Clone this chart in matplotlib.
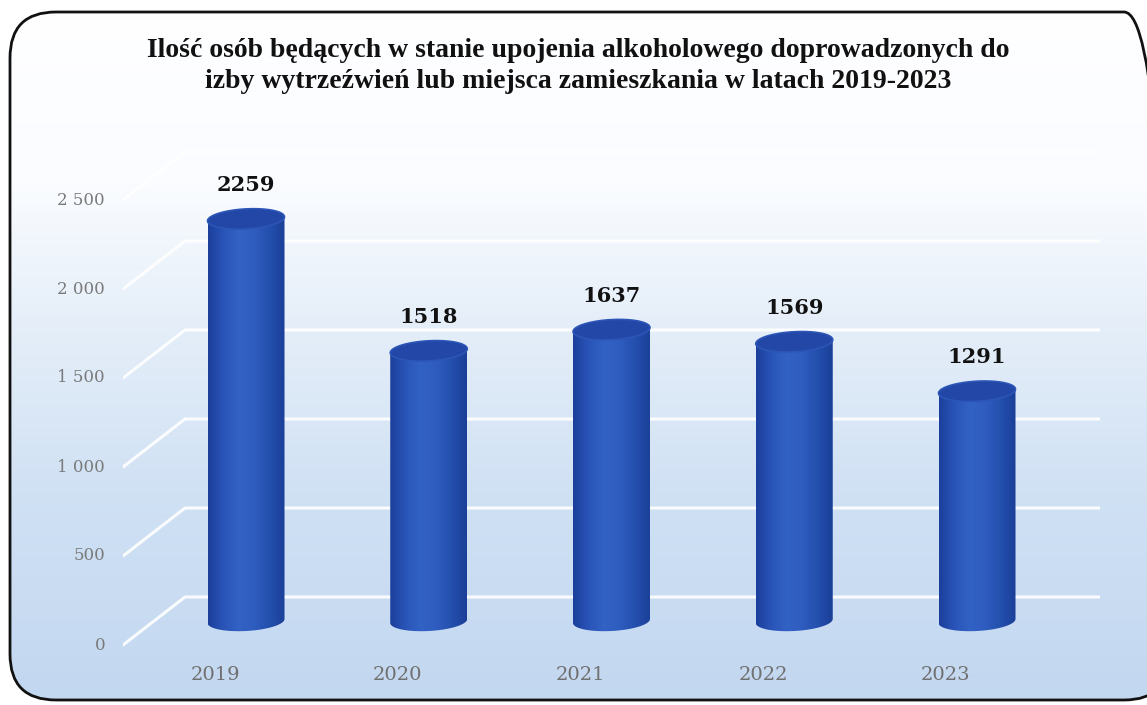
import matplotlib
matplotlib.use("Agg")
import matplotlib.pyplot as plt
import numpy as np
import matplotlib.colors as mcolors
from matplotlib.patches import PathPatch, Polygon, FancyBboxPatch
from matplotlib.path import Path

years = ["2019", "2020", "2021", "2022", "2023"]
values = [2259, 1518, 1637, 1569, 1291]
tick_values = [0, 500, 1000, 1500, 2000, 2500]
tick_labels = ["0", "500", "1 000", "1 500", "2 000", "2 500"]
title = ("Ilość osób będących w stanie upojenia alkoholowego doprowadzonych do\n"
         "izby wytrzeźwień lub miejsca zamieszkania w latach 2019-2023")

W, H = 1147, 705
fig = plt.figure(figsize=(W / 100, H / 100), dpi=100)

# background with rounded frame
bg = fig.add_axes([0, 0, 1, 1], zorder=-5)
bg.set_xlim(0, 1)
bg.set_ylim(0, 1)
bg.axis("off")
grad_cmap = mcolors.LinearSegmentedColormap.from_list(
    "bg", [(0.0, "#c2d7f0"), (0.3, "#d0e1f4"), (0.55, "#e6eff9"), (0.74, "#fafcff"), (1.0, "#ffffff")])
grad = np.linspace(0, 1, 256).reshape(-1, 1)
frame = FancyBboxPatch((10 / W, 5 / H), 1160 / W, 688 / H,
                       boxstyle="round,pad=0,rounding_size=0.04",
                       transform=bg.transAxes, facecolor="none",
                       edgecolor="#111111", lw=2, mutation_aspect=W / H)
bg.add_patch(frame)
im = bg.imshow(grad, cmap=grad_cmap, origin="lower", extent=[0, 1, 0, 1], aspect="auto")
im.set_clip_path(frame)

# main axes: x in category index, y in value units
scale = 0.178          # pixels per unit
base_px = 621          # pixel row of value 0 (bar base)
x0_px, x1_px, step_px = 123, 1100, 182.75
first_px = 246
ax = fig.add_axes([x0_px / W, 0, (x1_px - x0_px) / W, 1])
ax.set_xlim((x0_px - first_px) / step_px, (x1_px - first_px) / step_px)
ax.set_ylim((base_px - H) / scale, base_px / scale)
ax.axis("off")

xl, xr = ax.get_xlim()
depth_y = 24 / scale
depth_x = 62 / step_px

# perspective gridlines
for v in tick_values:
    ax.plot([xl, xl + depth_x, xr], [v - depth_y, v + depth_y, v + depth_y],
            color="white", lw=2.2, alpha=0.9, zorder=1, solid_capstyle="round")

for v, lab in zip(tick_values, tick_labels):
    ax.text(xl - 18 / step_px, v - depth_y, lab, ha="right", va="center",
            fontsize=12, color="#7a7a7a", family="DejaVu Serif", clip_on=False)

# cylinders
bar_w = 77 / step_px
a = bar_w / 2
b = 10 / scale
k = (2 / scale) / a    # slight tilt of the ellipses (right side higher)
body_cmap = mcolors.LinearSegmentedColormap.from_list(
    "body", ["#1c3f9c", "#2a55b8", "#3262c4", "#2f5cbf", "#2450ae", "#1b3f98"])
t_low = np.linspace(np.pi, 2 * np.pi, 40)
t_all = np.linspace(0, 2 * np.pi, 80)
for i, (yr, v) in enumerate(zip(years, values)):
    cx = i
    ex = cx + a * np.cos(t_low)
    ey = b * np.sin(t_low) + k * a * np.cos(t_low)
    verts = [(cx - a, v - k * a)] + list(zip(ex, ey)) + [(cx + a, v + k * a), (cx - a, v - k * a)]
    codes = [Path.MOVETO] + [Path.LINETO] * (len(verts) - 2) + [Path.CLOSEPOLY]
    body = PathPatch(Path(verts, codes), facecolor="none", edgecolor="none", zorder=3)
    ax.add_patch(body)
    g = ax.imshow(np.linspace(0, 1, 100).reshape(1, -1), cmap=body_cmap,
                  extent=[cx - a, cx + a, -2 * b, v + 2 * b],
                  aspect="auto", zorder=3)
    g.set_clip_path(body)
    top = np.column_stack([cx + a * np.cos(t_all),
                           v + b * np.sin(t_all) + k * a * np.cos(t_all)])
    ax.add_patch(Polygon(top, closed=True, facecolor="#2347a6",
                         edgecolor="#2b55b6", lw=1.2, zorder=4))
    ax.text(cx, v + 190, f"{v}", ha="center", va="center", fontsize=15,
            fontweight="bold", color="#111111", family="DejaVu Serif", zorder=5)
    ax.text(cx - 31 / step_px, (base_px - 675) / scale, yr, ha="center", va="center",
            fontsize=14, color="#707070", family="DejaVu Serif")

fig.text(578 / W, 1 - 66 / H, title, ha="center", va="center", fontsize=20,
         fontweight="bold", color="#111111", family="Liberation Serif", linespacing=1.3)

fig.savefig("out.png", dpi=100)
